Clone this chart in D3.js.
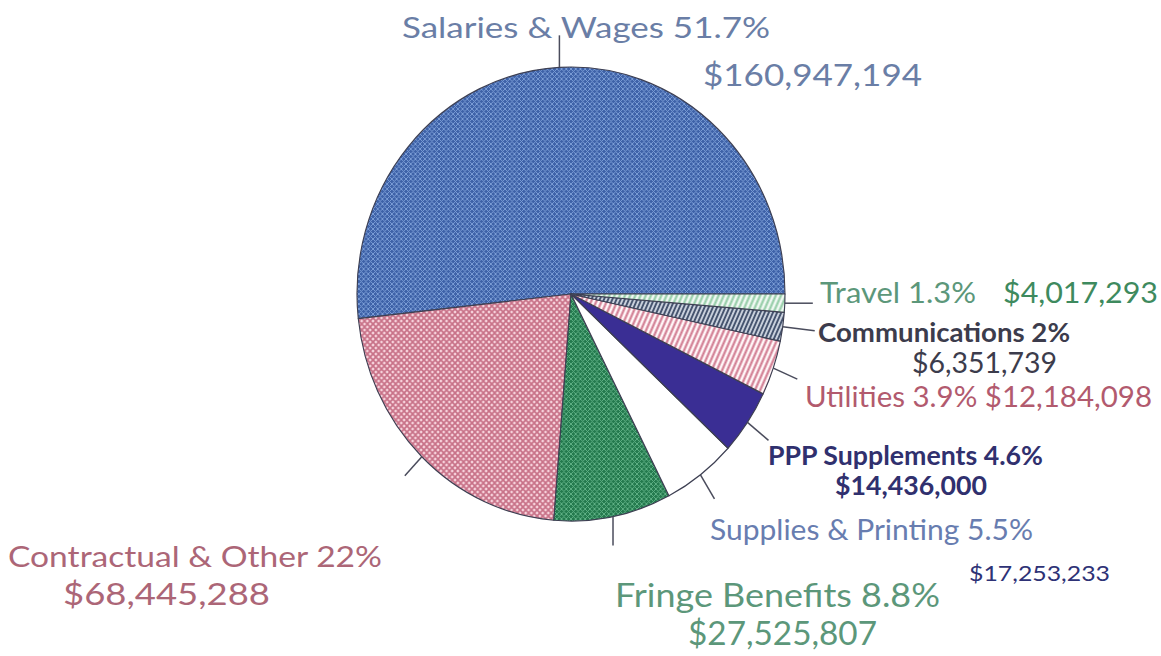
<!DOCTYPE html>
<html>
<head>
<meta charset="utf-8">
<script src="https://cdn.jsdelivr.net/npm/d3@7"></script>
<style>
  html, body { margin: 0; padding: 0; background: #fff; }
  svg { display: block; }
  text { font-family: Lato, "Open Sans", "DejaVu Sans", sans-serif; }
</style>
</head>
<body>
<svg id="chart" width="1161" height="656"></svg>
<script>
// Budget categories, in drawing order (counter-clockwise from 3 o'clock)
const categories = [
  "Salaries & Wages",
  "Contractual & Other",
  "Fringe Benefits",
  "Supplies & Printing",
  "PPP Supplements",
  "Utilities",
  "Communications",
  "Travel"
];
const amounts = [160947194, 68445288, 27525807, 17253233, 14436000, 12184098, 6351739, 4017293];
const percentLabels = ["51.7%", "22%", "8.8%", "5.5%", "4.6%", "3.9%", "2%", "1.3%"];
const amountLabels = ["$160,947,194", "$68,445,288", "$27,525,807", "$17,253,233",
                      "$14,436,000", "$12,184,098", "$6,351,739", "$4,017,293"];

// Slice fills
const fills = ["url(#hatchBlue)", "url(#hatchPink)", "url(#hatchGreen)", "#ffffff",
               "#3a2e94", "url(#stripeRed)", "url(#stripeSlate)", "url(#stripeMint)"];

// Label layout: each label is one or two text lines; leader offsets from the rim
const labelLayout = [
  { lead: [0, -32], lines: [
      { t: d => d.name + " " + d.pct, x: 402, y: 38, w: 368, size: 29, color: "#6a7ea6", weight: 400 },
      { t: d => d.amt, x: 703, y: 86, w: 219, size: 30, color: "#6a7ea6", weight: 400 } ] },
  { lead: [-17, 19], lines: [
      { t: d => d.name + " " + d.pct, x: 8, y: 567, w: 374, size: 29, color: "#ac6677", weight: 400 },
      { t: d => d.amt, x: 63, y: 605, w: 207, size: 30, color: "#ac6677", weight: 400 } ] },
  { lead: [0, 29], lines: [
      { t: d => d.name + " " + d.pct, x: 615, y: 607, w: 325, size: 33, color: "#5c977a", weight: 400 },
      { t: d => d.amt, x: 688, y: 645, w: 189, size: 33, color: "#5c977a", weight: 400 } ] },
  { lead: [14, 24], lines: [
      { t: d => d.name + " " + d.pct, x: 710, y: 540, w: 323, size: 29, color: "#687db0", weight: 400 },
      { t: d => d.amt, x: 969, y: 581, w: 141, size: 21, color: "#2e3276", weight: 400 } ] },
  { lead: [21, 18], lines: [
      { t: d => d.name + " " + d.pct, x: 768, y: 465, w: 275, size: 26, color: "#30306e", weight: 700 },
      { t: d => d.amt, x: 835, y: 495, w: 152, size: 27, color: "#30306e", weight: 700 } ] },
  { lead: [24, 11], lines: [
      { t: d => d.name + " " + d.pct + " " + d.amt, x: 805, y: 407, w: 347, size: 29, color: "#b25a6e", weight: 400 } ] },
  { lead: [32, 4], lines: [
      { t: d => d.name + " " + d.pct, x: 818, y: 342, w: 252, size: 27, color: "#3c3c4c", weight: 700 },
      { t: d => d.amt, x: 912, y: 373, w: 145, size: 28, color: "#3c3c4c", weight: 400 } ] },
  { lead: [28, 0], lines: [
      { t: d => d.name + " " + d.pct, x: 820, y: 303, w: 156, size: 28, color: "#5c977a", weight: 400 },
      { t: d => d.amt, x: 1003, y: 303, w: 155, size: 28, color: "#3e8a5e", weight: 400 } ] }
];

const svg = d3.select("#chart");
const cx = 571, cy = 294, rx = 214, ry = 227;

// Fill patterns: cross-hatching and stripes
const defs = svg.append("defs");
function crossHatch(id, bg, line, size, width) {
  const p = defs.append("pattern").attr("id", id).attr("patternUnits", "userSpaceOnUse")
    .attr("width", size).attr("height", size);
  p.append("rect").attr("width", size).attr("height", size).attr("fill", bg);
  p.append("path").attr("d", `M0,0L${size},${size}M${size},0L0,${size}`)
    .attr("stroke", line).attr("stroke-width", width);
}
function stripes(id, bg, line, size, width, angle) {
  const p = defs.append("pattern").attr("id", id).attr("patternUnits", "userSpaceOnUse")
    .attr("width", size).attr("height", size).attr("patternTransform", `rotate(${angle})`);
  p.append("rect").attr("width", size).attr("height", size).attr("fill", bg);
  p.append("line").attr("x1", size / 2).attr("x2", size / 2).attr("y1", 0).attr("y2", size)
    .attr("stroke", line).attr("stroke-width", width);
}
crossHatch("hatchBlue", "#3e62a8", "#7b9dd6", 5, 1.0);
crossHatch("hatchPink", "#f8d4dd", "#c87288", 6, 1.8);
crossHatch("hatchGreen", "#247a4e", "#5fb085", 5, 1.0);
stripes("stripeRed", "#fff5f7", "#d07a90", 5, 2.2, 25);
stripes("stripeSlate", "#c9d0dc", "#46546f", 4, 2, 25);
stripes("stripeMint", "#eff8f2", "#93cca6", 5, 2.2, 25);

const data = categories.map((name, i) => ({
  name, value: amounts[i], pct: percentLabels[i], amt: amountLabels[i], fill: fills[i], i
}));

const pie = d3.pie().value(d => d.value).sort(null)
  .startAngle(Math.PI / 2).endAngle(Math.PI / 2 - 2 * Math.PI);
const arcs = pie(data);
const arc = d3.arc().innerRadius(0).outerRadius(ry);

const g = svg.append("g").attr("transform", `translate(${cx},${cy}) scale(${rx / ry},1)`);
g.selectAll("path.slice").data(arcs).join("path")
  .attr("class", "slice")
  .attr("d", arc)
  .attr("fill", d => d.data.fill)
  .attr("stroke", "#3d3f52")
  .attr("stroke-width", 1.2)
  .attr("stroke-linejoin", "round");

// Leader lines from the rim at each slice's mid-angle
arcs.forEach((a, i) => {
  const mid = (a.startAngle + a.endAngle) / 2;
  const px = cx + rx * Math.sin(mid);
  const py = cy - ry * Math.cos(mid);
  const L = labelLayout[i];
  svg.append("line")
    .attr("x1", px).attr("y1", py)
    .attr("x2", px + L.lead[0]).attr("y2", py + L.lead[1])
    .attr("stroke", "#4a4c5c").attr("stroke-width", 1.5);
});

// Labels
arcs.forEach((a, i) => {
  labelLayout[i].lines.forEach(ln => {
    svg.append("text")
      .attr("x", ln.x).attr("y", ln.y)
      .attr("font-size", ln.size)
      .attr("font-weight", ln.weight)
      .attr("fill", ln.color)
      .attr("textLength", ln.w)
      .attr("lengthAdjust", "spacingAndGlyphs")
      .text(ln.t(a.data));
  });
});
</script>
</body>
</html>
